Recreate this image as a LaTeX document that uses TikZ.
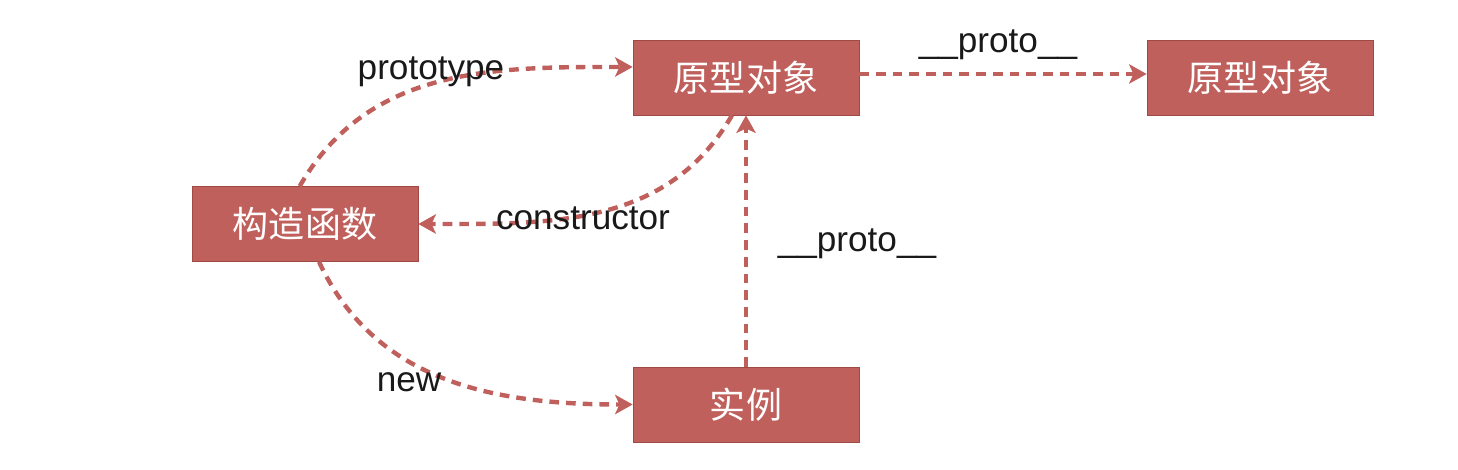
\documentclass[tikz,border=0pt]{standalone}
\usepackage{fontspec}
\setmainfont{Liberation Sans}
\newfontfamily\cjk{Noto Sans CJK SC}
\usetikzlibrary{arrows.meta}
\definecolor{boxred}{HTML}{C0605C}
\definecolor{boxedge}{HTML}{A04A46}
\tikzset{
  obj/.style={draw=boxedge,fill=boxred,text=white,minimum width=4.52cm,minimum height=1.5cm,inner sep=0pt,font=\cjk\fontsize{20.5}{24}\selectfont},
  link/.style={draw=boxred,line width=2.5pt,dash pattern=on 5.5pt off 4pt,-{Stealth[length=10pt,width=11pt,inset=2.5pt]}},
  lbl/.style={font=\fontsize{20}{24}\selectfont,inner sep=0pt,text=black!90}
}
\begin{document}
\begin{tikzpicture}[x=.02cm,y=-.02cm]
\useasboundingbox (0,0) rectangle (1458,470);
\node[obj] (proto) at (746,77.5) {原型对象};
\node[obj] (protoB) at (1260,77.5) {原型对象};
\node[obj] (ctor) at (305,224) {构造函数};
\node[obj] (inst) at (746,404.5) {实例};
% links
\draw[link] ([xshift=-3pt]ctor.north) to[out=60,in=180] ([yshift=6pt]proto.west);
\draw[link] ([xshift=-8pt]proto.south) to[out=240,in=0] (ctor.east);
\draw[link] ([yshift=2pt]proto.east) -- ([yshift=2pt]protoB.west);
\draw[link] (inst.north) -- (proto.south);
\draw[link] ([xshift=8pt]ctor.south) to[out=-65,in=180] (inst.west);
% labels
\node[lbl] (lproto) at (431,72) {prototype};
\node[lbl] (lctor) at (583,218) {constructor};
\node[lbl] (lup) at (998,45) {\_\_proto\_\_};
\node[lbl] (lright) at (857,244) {\_\_proto\_\_};
\node[lbl] (lnew) at (409,382) {new};
\end{tikzpicture}
\end{document}
